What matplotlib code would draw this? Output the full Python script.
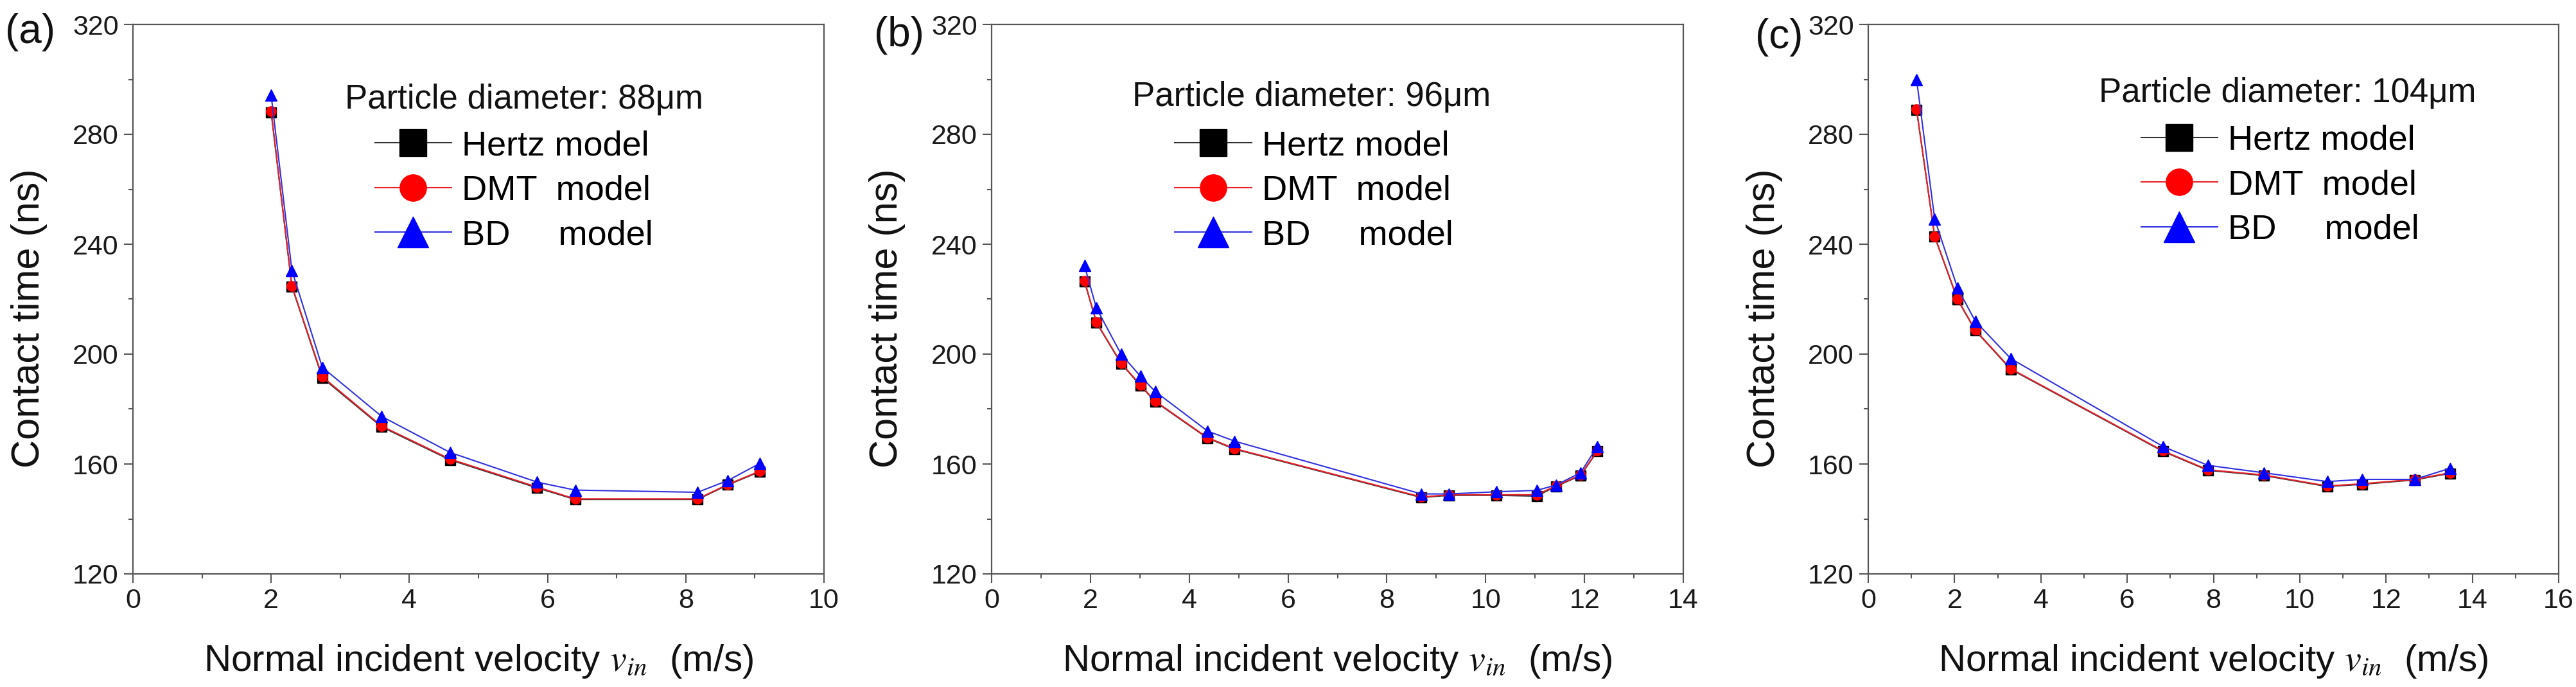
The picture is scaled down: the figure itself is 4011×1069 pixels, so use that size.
import numpy as np
import matplotlib
matplotlib.use("Agg")
import matplotlib.pyplot as plt

plt.rcParams['font.family'] = ['Liberation Sans', 'DejaVu Sans']
plt.rcParams['mathtext.fontset'] = 'stix'

# panel (a) - 88 um
v_a = [2.00, 2.30, 2.74, 3.60, 4.59, 5.85, 6.40, 8.17, 8.61, 9.07]
hertz_a = [288.0, 224.6, 191.4, 173.5, 161.5, 151.3, 147.1, 147.1, 152.4, 157.2]
dmt_a = [288.4, 224.9, 191.8, 173.8, 161.8, 151.6, 147.3, 147.3, 152.6, 157.4]
bd_a = [294.3, 230.5, 195.2, 177.3, 164.2, 153.4, 150.5, 149.7, 154.0, 160.2]

# panel (b) - 96 um
v_b = [1.88, 2.12, 2.62, 3.01, 3.31, 4.37, 4.92, 8.70, 9.26, 10.22, 11.03, 11.42, 11.92, 12.26]
hertz_b = [226.5, 211.5, 196.6, 188.6, 182.7, 169.4, 165.4, 147.8, 148.6, 148.6, 148.3, 151.8, 155.8, 164.6]
dmt_b = [226.7, 211.7, 196.8, 188.8, 182.9, 169.6, 165.6, 148.0, 148.8, 148.8, 148.8, 152.0, 156.0, 164.8]
bd_b = [232.2, 216.8, 200.0, 192.0, 186.4, 172.0, 168.3, 149.1, 149.1, 149.9, 150.4, 152.3, 156.8, 166.4]

# panel (c) - 104 um
v_c = [1.12, 1.54, 2.07, 2.48, 3.30, 6.83, 7.87, 9.17, 10.64, 11.44, 12.66, 13.48]
hertz_c = [288.9, 242.7, 219.8, 208.6, 194.5, 164.6, 157.7, 155.8, 151.8, 152.6, 154.2, 156.6]
dmt_c = [289.1, 242.9, 220.0, 208.8, 194.7, 164.8, 157.9, 156.0, 152.0, 152.8, 154.4, 156.8]
bd_c = [300.0, 249.1, 224.0, 212.0, 198.4, 166.4, 159.5, 156.8, 153.6, 154.4, 154.4, 158.4]

panels = [
    ("(a)", "88", v_a, hertz_a, dmt_a, bd_a, 10),
    ("(b)", "96", v_b, hertz_b, dmt_b, bd_b, 14),
    ("(c)", "104", v_c, hertz_c, dmt_c, bd_c, 16),
]

W, H = 4011, 1069
fig = plt.figure(figsize=(W / 100, H / 100), dpi=100)

ax_left = [207, 1544, 2909]
ax_w = [1076, 1077, 1075]
ax_top, ax_bot = 38, 893
title_pos = [(0.307, 0.864), (0.203, 0.868), (0.334, 0.876)]
leg_anchor = [(0.350, 0.808), (0.265, 0.808), (0.395, 0.818)]
lab_pos = [(8, 50), (1361, 55), (2733, 58)]

for i, (tag, dia, v, hz, dm, bd, xmax) in enumerate(panels):
    ax = fig.add_axes([ax_left[i] / W, (H - ax_bot) / H, ax_w[i] / W, (ax_bot - ax_top) / H])
    ax.plot(v, hz, color='#333333', lw=1.5, marker='s', ms=11, mfc='black', mec='black', label='Hertz model')
    ax.plot(v, dm, color='#e8202a', lw=1.5, marker='o', ms=11, mfc='#ff0000', mec='#ff0000', label='DMT  model')
    ax.plot(v, bd, color='#3030e0', lw=1.5, marker='^', ms=13, mfc='#0000ff', mec='#0000ff', label='BD     model')

    ax.set_xlim(0, xmax)
    ax.set_ylim(120, 320)
    ax.set_xticks(np.arange(0, xmax + 1, 2))
    ax.set_xticks(np.arange(1, xmax, 2), minor=True)
    ax.set_yticks(np.arange(120, 321, 40))
    ax.set_yticks(np.arange(140, 320, 40), minor=True)
    ax.tick_params(which='major', direction='out', length=10, width=1.5, labelsize=31,
                   pad=6, color='#555555', labelcolor='#1a1a1a')
    ax.tick_params(which='minor', direction='out', length=5, width=1.5, color='#555555')
    for s in ax.spines.values():
        s.set_color('#555555')
        s.set_linewidth(1.6)

    ax.set_xlabel(r'Normal incident velocity $v_{in}$  (m/s)', fontsize=42, color='#111111')
    ax.set_ylabel('Contact time (ns)', fontsize=44, color='#111111')
    ax.xaxis.set_label_coords(0.5, -0.125)
    ax.yaxis.set_label_coords(-0.124, 0.465)

    ax.text(title_pos[i][0], title_pos[i][1], 'Particle diameter: ' + dia + '\u03bcm',
            transform=ax.transAxes, fontsize=38, ha='left', va='center', color='#111111')
    ax.legend(loc='upper left', bbox_to_anchor=leg_anchor[i], frameon=False,
              fontsize=39, markerscale=2.7, handlelength=2.2, handletextpad=0.3,
              labelspacing=0.36, borderpad=0, borderaxespad=0)

    fig.text(lab_pos[i][0] / W, 1 - lab_pos[i][1] / H, tag, fontsize=46,
             ha='left', va='center', color='#111111')

fig.savefig('out.png', dpi=100)
